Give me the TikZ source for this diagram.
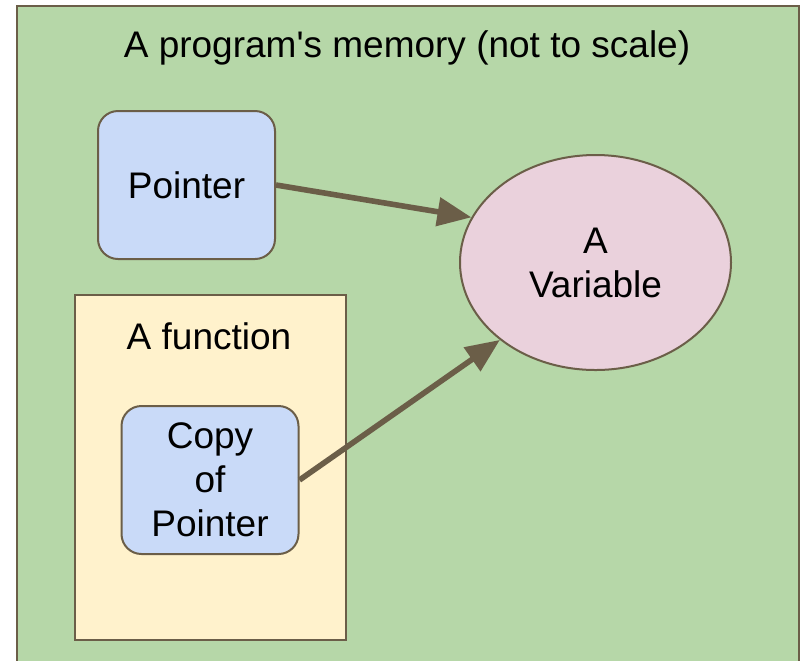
\documentclass[tikz,border=0pt]{standalone}
\usepackage{fontspec}
\setmainfont{Liberation Sans}
\usetikzlibrary{arrows.meta,shapes.geometric}
\definecolor{memgreen}{HTML}{B6D7A8}
\definecolor{fnyellow}{HTML}{FFF2CC}
\definecolor{ptrblue}{HTML}{C9DAF8}
\definecolor{varpink}{HTML}{EAD1DC}
\definecolor{edgebrown}{HTML}{6B5E48}
\tikzset{
  px/.style={x=0.5pt,y=-0.5pt},
  txt/.style={font=\fontsize{18.5}{22}\selectfont, text=black, align=center},
  region/.style={draw=edgebrown, line width=1pt, rectangle, inner sep=0pt, anchor=north west},
  ptrbox/.style={draw=edgebrown, line width=1pt, fill=ptrblue, rounded corners=10pt,
    minimum width=88.5pt, minimum height=74pt, inner sep=0pt, txt},
  varnode/.style={draw=edgebrown, line width=1pt, fill=varpink, ellipse,
    minimum width=135.5pt, minimum height=107.5pt, inner sep=0pt, txt},
  refarrow/.style={draw=edgebrown, line width=2.8pt,
    -{Triangle[length=17pt,width=14pt]}}
}
\begin{document}
\begin{tikzpicture}[px]
  \useasboundingbox (0,0) rectangle (802,660);
  \clip (0,0) rectangle (802,660);
  \fill[white] (0,0) rectangle (802,660);
  % whole memory area
  \node[region, fill=memgreen, minimum width=391pt, minimum height=335pt] (mem) at (16,5) {};
  \node[txt] (title) at (407,48) {A program\textquotesingle s memory (not to scale)};
  % function frame
  \node[region, fill=fnyellow, minimum width=135.5pt, minimum height=172.5pt] (fn) at (74,294) {};
  \node[txt] (fntitle) at (209,336) {A function};
  % pointers and the variable
  \node[ptrbox] (ptr) at (186.5,185) {Pointer};
  \node[ptrbox] (cpy) at (210,480) {\raisebox{-1pt}{\parbox{80pt}{\centering Copy\\of\\Pointer}}};
  \node[varnode] (var) at (595.5,262.5) {A\\Variable};
  % references
  \draw[refarrow] (ptr.east) -- (var.160.7);
  \draw[refarrow] (cpy.east) -- (var.219);
\end{tikzpicture}
\end{document}
